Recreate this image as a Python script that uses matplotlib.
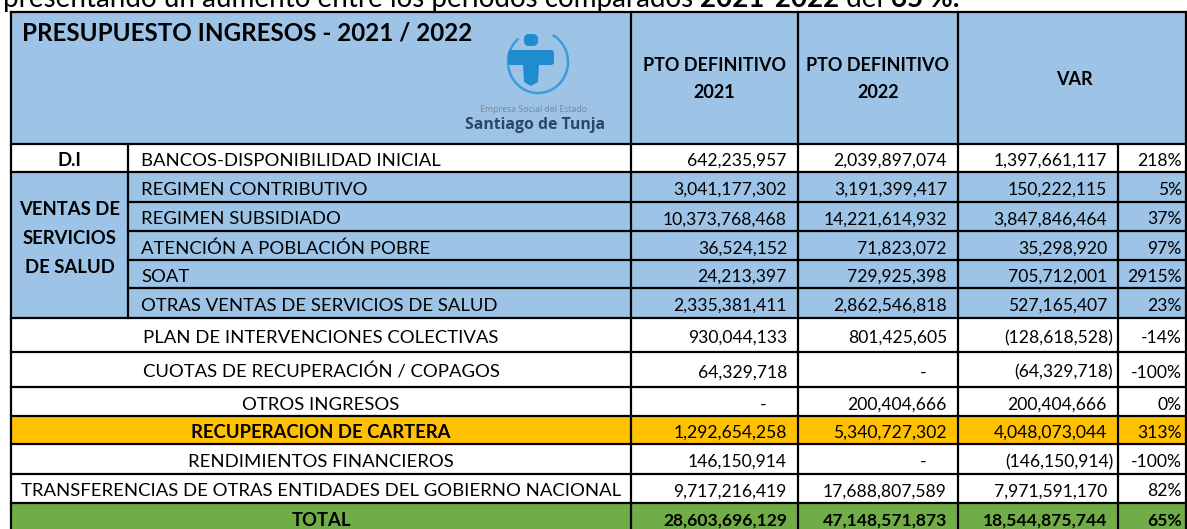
import matplotlib
matplotlib.use('Agg')
import matplotlib.pyplot as plt
from matplotlib.patches import Rectangle, Polygon, FancyBboxPatch
import numpy as np

plt.rcParams['font.family'] = ['Lato', 'DejaVu Sans']

# ---- data ----
caption_parts = [('presentando un aumento entre los periodos comparados ', 'normal'),
                 ('2021-2022', 'bold'), (' del ', 'normal'), ('65 %.', 'bold')]
title = 'PRESUPUESTO INGRESOS - 2021 / 2022'
col_headers = ['PTO DEFINITIVO\n2021', 'PTO DEFINITIVO\n2022', 'VAR']
group_di = 'D.I'
group_ventas = ['VENTAS DE', 'SERVICIOS', 'DE SALUD']

row_labels = ['BANCOS-DISPONIBILIDAD INICIAL',
              'REGIMEN CONTRIBUTIVO',
              'REGIMEN SUBSIDIADO',
              'ATENCIÓN A POBLACIÓN POBRE',
              'SOAT',
              'OTRAS VENTAS DE SERVICIOS DE SALUD',
              'PLAN DE INTERVENCIONES COLECTIVAS',
              'CUOTAS DE RECUPERACIÓN / COPAGOS',
              'OTROS INGRESOS',
              'RECUPERACION DE CARTERA',
              'RENDIMIENTOS FINANCIEROS',
              'TRANSFERENCIAS DE OTRAS ENTIDADES DEL GOBIERNO NACIONAL']
pto_2021 = [642235957, 3041177302, 10373768468, 36524152, 24213397, 2335381411,
            930044133, 64329718, 0, 1292654258, 146150914, 9717216419]
pto_2022 = [2039897074, 3191399417, 14221614932, 71823072, 729925398, 2862546818,
            801425605, 0, 200404666, 5340727302, 0, 17688807589]
var_abs = [1397661117, 150222115, 3847846464, 35298920, 705712001, 527165407,
           -128618528, -64329718, 200404666, 4048073044, -146150914, 7971591170]
var_pct = [218, 5, 37, 97, 2915, 23, -14, -100, 0, 313, -100, 82]

total_label = 'TOTAL'
total_2021 = 28603696129
total_2022 = 47148571873
total_var = 18544875744
total_pct = 65

# ---- layout / style ----
W, H = 1187, 529
col_x = [11, 128, 631, 798, 958, 1118, 1186]
row_y = [12, 144, 172, 202, 231, 260, 288, 318, 352, 387, 416, 444, 474, 503, 532]
blue = '#9DC3E6'
orange = '#FFC000'
green = '#70AD47'
row_fill = ['white'] + [blue] * 5 + ['white'] * 3 + [orange] + ['white'] * 2
fs = 12.6      # numbers
fs_lab = 13.3  # row labels
fs_hdr = 13.0
lw = 1.6

fig = plt.figure(figsize=(W / 100, H / 100), dpi=100)
ax = fig.add_axes([0, 0, 1, 1])
ax.set_xlim(0, W)
ax.set_ylim(H, 0)
ax.axis('off')

# fills
ax.add_patch(Rectangle((col_x[0], row_y[0]), col_x[-1] - col_x[0], row_y[1] - row_y[0],
                       color=blue, lw=0, zorder=1))
for i, c in enumerate(row_fill):
    ax.add_patch(Rectangle((col_x[0], row_y[i + 1]), col_x[-1] - col_x[0],
                           row_y[i + 2] - row_y[i + 1], color=c, lw=0, zorder=1))
ax.add_patch(Rectangle((col_x[0], row_y[-2]), col_x[-1] - col_x[0], row_y[-1] - row_y[-2],
                       color=green, lw=0, zorder=1))

# borders
for k, y in enumerate(row_y):
    x0 = col_x[1] if 3 <= k <= 6 else col_x[0]
    ax.plot([x0, col_x[-1]], [y, y], color='black', lw=lw, solid_capstyle='projecting', zorder=3)
for k, x in enumerate(col_x):
    y0 = row_y[0]
    y1 = row_y[-1]
    if k == 1:
        y0, y1 = row_y[1], row_y[7]
    elif k == 5:
        y0 = row_y[1]
    ax.plot([x, x], [y0, y1], color='black', lw=lw, solid_capstyle='projecting', zorder=3)

# caption (cut at the top of the picture)
prev = ax.text(3, 7, caption_parts[0][0], fontsize=20, fontweight=caption_parts[0][1],
               ha='left', va='baseline', zorder=0.5)
for txt, wt in caption_parts[1:]:
    prev = ax.annotate(txt, xy=(1, 0), xycoords=prev, fontsize=20, fontweight=wt,
                       ha='left', va='bottom', zorder=0.5)

# header
ax.text(22, 40.5, title, fontsize=17.4, fontweight='bold', ha='left', va='baseline', zorder=4)
for j, hdr in enumerate(col_headers[:2]):
    xc = (col_x[2 + j] + col_x[3 + j]) / 2
    for n, line in enumerate(hdr.split('\n')):
        ax.text(xc, 71 + 27 * n, line, fontsize=fs_hdr, fontweight='bold', ha='center',
                va='baseline', zorder=4)
ax.text((col_x[4] + col_x[6]) / 2 + 2, 85, col_headers[2], fontsize=fs_hdr, fontweight='bold',
        ha='center', va='baseline', zorder=4)

# logo
t = np.radians(np.linspace(133, 418, 200))
ax.plot(538 + 30 * np.cos(t), 62 - 31 * np.sin(t), color='#3C9DDC', lw=1.8, zorder=4)
ax.add_patch(FancyBboxPatch((524, 34), 14, 12, boxstyle='round,pad=0,rounding_size=5',
                            color='#1F8CCF', lw=0, zorder=4))
ax.add_patch(FancyBboxPatch((508, 50), 46, 15, boxstyle='round,pad=0,rounding_size=3',
                            color='#1F8CCF', lw=0, zorder=4))
ax.add_patch(Polygon([(523, 64), (539, 64), (538, 82), (531, 86), (524, 82)],
                     closed=True, color='#1F8CCF', lw=0, zorder=4))
ax.text(534, 110, 'Empresa Social del Estado', fontsize=6.3, color='#7b8a99',
        family='Noto Sans', ha='center', va='center', zorder=4)
ax.text(535, 125, 'Santiago de Tunja', fontsize=11.3, color='#2a4866', family='Open Sans',
        fontweight='bold', ha='center', va='center', zorder=4)


def put_num(x_right, y, v, bold=False):
    w = 'bold' if bold else 'normal'
    if v == 0:
        ax.text(x_right - 35, y, '-', fontsize=fs, fontweight=w, ha='center', va='baseline', zorder=4)
    elif v < 0:
        ax.text(x_right - 5, y, '({:,})'.format(-v), fontsize=fs, fontweight=w, ha='right',
                va='baseline', zorder=4)
    else:
        ax.text(x_right - 11, y, '{:,}'.format(v), fontsize=fs, fontweight=w, ha='right',
                va='baseline', zorder=4)


# body rows
for i, label in enumerate(row_labels):
    yb = (row_y[i + 1] + row_y[i + 2]) / 2 + 8
    if i < 6:
        ax.text(col_x[1] + 13, yb, label, fontsize=fs_lab, ha='left', va='baseline', zorder=4)
    else:
        ax.text((col_x[0] + col_x[2]) / 2, yb, label, fontsize=fs_lab, ha='center', va='baseline',
                fontweight='bold' if i == 9 else 'normal', zorder=4)
    put_num(col_x[3], yb, pto_2021[i])
    put_num(col_x[4], yb, pto_2022[i])
    put_num(col_x[5], yb, var_abs[i])
    ax.text(col_x[6] - 4, yb, '{}%'.format(var_pct[i]), fontsize=fs, ha='right', va='baseline', zorder=4)

# group labels
ax.text((col_x[0] + col_x[1]) / 2, (row_y[1] + row_y[2]) / 2 + 8, group_di, fontsize=fs_lab,
        fontweight='bold', ha='center', va='baseline', zorder=4)
mid = (row_y[2] + row_y[7]) / 2
for n, line in enumerate(group_ventas):
    ax.text((col_x[0] + col_x[1]) / 2, mid - 30 + 29 * n, line, fontsize=fs_lab, fontweight='bold',
            ha='center', va='baseline', zorder=4)

# total row
yb = (row_y[-2] + row_y[-1]) / 2 + 8
ax.text((col_x[0] + col_x[2]) / 2, yb, total_label, fontsize=fs_lab, fontweight='bold',
        ha='center', va='baseline', zorder=4)
put_num(col_x[3], yb, total_2021, True)
put_num(col_x[4], yb, total_2022, True)
put_num(col_x[5], yb, total_var, True)
ax.text(col_x[6] - 4, yb, '{}%'.format(total_pct), fontsize=fs, fontweight='bold', ha='right',
        va='baseline', zorder=4)

fig.savefig('out.png', dpi=100)
